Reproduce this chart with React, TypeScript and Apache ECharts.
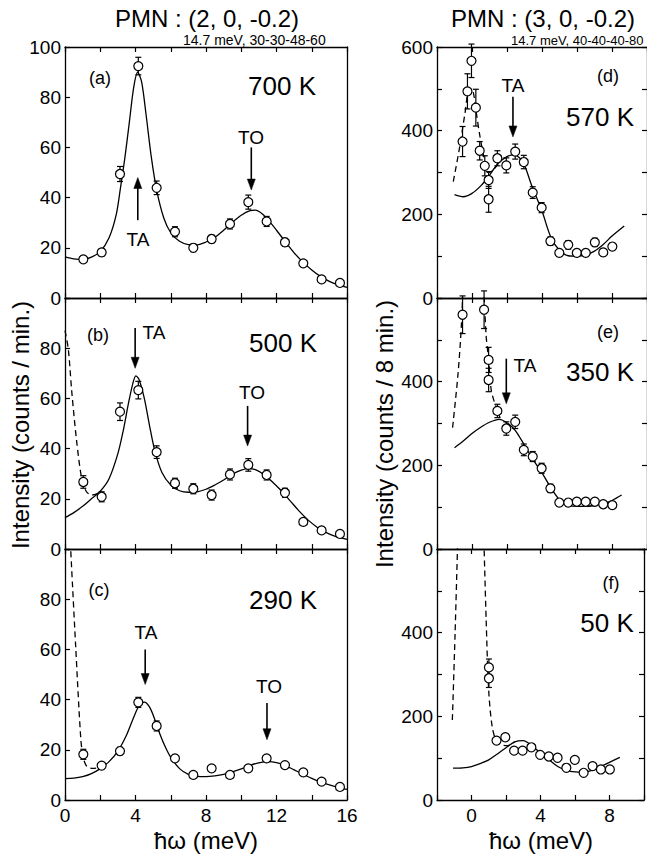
import React, { useEffect, useRef } from "react";
import * as echarts from "echarts";

// ---------- data ----------
const leftX = [1.04, 2.08, 3.12, 4.16, 5.2, 6.24, 7.28, 8.32, 9.36, 10.4, 11.44, 12.48, 13.52, 14.56, 15.6];

const yA = [15.4, 18.2, 49.4, 92.4, 43.9, 26.4, 20.0, 23.5, 29.5, 38.2, 30.5, 22.2, 13.8, 7.4, 6.0];
const errA = [1.2, 1.5, 3, 3.5, 2.7, 2, 1.5, 1.5, 2, 2.8, 2, 1.5, 1, 1, 1];
const yB = [26.7, 20.8, 54.7, 63.3, 38.6, 26.2, 24.0, 21.5, 29.7, 33.5, 29.5, 22.4, 10.8, 7.4, 6.0];
const errB = [2.5, 2, 3.5, 3.5, 2.5, 2, 2, 2, 2.2, 2.5, 2, 1.8, 1, 1, 1];
const yC = [18.2, 13.7, 19.5, 38.9, 29.5, 16.6, 10.0, 12.6, 10.0, 12.6, 16.6, 13.9, 11.0, 7.3, 5.2];
const errC = [2, 1.2, 1.5, 2, 2, 1.2, 1, 1, 1, 1, 1, 1, 1, 1, 1];

const fitA = [[0,16.4],[0.5,15.6],[1,15.3],[1.5,16.3],[2,18.5],[2.5,24],[2.9,33],[3.15,44],[3.4,56],[3.65,70],[3.9,84],[4.12,90],[4.35,86],[4.6,73],[4.9,56],[5.2,43],[5.6,32],[6.0,26],[6.5,22.6],[7,21.3],[7.5,21.2],[8,22.3],[8.5,24.2],[9,27],[9.5,30.2],[10,33],[10.5,34.8],[10.8,35],[11.2,33.5],[11.6,30.5],[12,27],[12.5,22.4],[13,18],[13.5,14.3],[14,11.2],[14.5,8.6],[15,6.6],[15.5,5.2],[16,4.2]];
const fitB = [[0,12.5],[0.5,14.5],[1,17],[1.5,20],[2,23],[2.5,28],[3,38],[3.3,47],[3.6,58],[3.85,66],[4.02,69],[4.2,67.5],[4.5,60],[4.8,49],[5.1,39],[5.5,30.5],[6,25.5],[6.5,23.2],[7,22.6],[7.5,22.8],[8,23.8],[8.5,25.5],[9,27.5],[9.5,29.8],[10,31.4],[10.4,32],[10.8,31.6],[11.3,29.6],[11.8,26.5],[12.3,23],[12.8,19],[13.3,15],[13.8,11.5],[14.3,8.7],[14.8,6.6],[15.3,5.1],[16,3.8]];
const dashB = [[0,87],[0.19,79.5],[0.38,63],[0.66,43],[0.95,28],[1.2,23],[1.5,21.5],[1.8,22],[2,23]];
const fitC = [[0,8.5],[0.5,8.7],[1,9.3],[1.5,10.5],[2,12.5],[2.5,15.3],[3,19.5],[3.5,26],[3.9,33],[4.2,37.5],[4.5,39],[4.8,37],[5.1,32],[5.4,26],[5.7,21],[6,17],[6.5,12.5],[7,10.2],[7.5,9.4],[8,9.3],[8.5,9.6],[9,10.2],[9.5,11.2],[10,12.4],[10.5,13.8],[11,14.8],[11.5,15.3],[12,14.9],[12.5,13.7],[13,12],[13.5,10.3],[14,8.6],[14.5,7.1],[15,6],[15.5,5],[16,4.2]];
const dashC = [[0.3,103],[0.6,62],[0.9,24],[1.05,16.5],[1.25,13.3],[1.6,12.6],[2.0,13.0]];

const xD = [-0.54, -0.26, -0.03, 0.22, 0.44, 0.73, 0.95, 0.95, 1.45, 1.96, 2.47, 2.96, 3.47, 3.98, 4.48, 4.99, 5.5, 5.99, 6.5, 7.02, 7.5, 8.02];
const yD = [374, 494, 567, 455, 352, 316, 282, 236, 334, 317, 350, 325, 252, 216, 136, 108, 127, 108, 108, 133, 109, 123];
const errD = [36, 42, 40, 44, 22, 24, 20, 31, 18, 18, 18, 16, 14, 12, 10, 8, 10, 8, 8, 10, 8, 8];
const xE = [-0.54, 0.69, 0.95, 0.95, 1.45, 1.96, 2.47, 2.96, 3.47, 3.98, 4.48, 4.99, 5.5, 5.99, 6.5, 7.02, 7.5, 8.02];
const yE = [560, 572, 452, 404, 330, 288, 304, 237, 221, 193, 145, 111, 111, 113, 113, 113, 107, 105];
const errE = [45, 45, 30, 28, 16, 16, 16, 14, 12, 12, 10, 8, 8, 8, 8, 8, 8, 8];
const xF = [1.01, 1.01, 1.45, 1.96, 2.47, 2.96, 3.47, 3.98, 4.48, 4.99, 5.5, 5.99, 6.5, 7.02, 7.5, 8.02];
const yF = [317, 291, 142, 150, 118, 118, 126, 108, 104, 101, 77, 96, 65, 81, 73, 73];
const errF = [20, 22, 6, 6, 5, 5, 5, 5, 5, 5, 5, 5, 5, 5, 5, 5];

const fitD = [[-1,247],[-0.5,242],[0,250],[0.5,268],[0.9,288],[1.5,322],[2,338],[2.4,342],[2.9,326],[3.4,270],[4,208],[4.5,146],[5,114],[5.5,101],[6,100],[6.5,103],[7,112],[7.5,128],[8,148],[8.7,172]];
const dashD = [[-1.07,278],[-0.7,362],[-0.4,442],[-0.15,500],[0.05,495],[0.22,450],[0.44,390],[0.63,347],[0.92,300],[1.2,305],[1.5,322]];
const fitE = [[-1,242],[-0.5,258],[0,276],[0.5,291],[1,303],[1.55,310],[2.1,299],[2.5,282],[3,248],[3.5,213],[4,182],[4.5,147],[5,118],[5.5,105],[6,102],[6.5,102],[7,104],[7.5,108],[8,116],[8.55,129]];
const dashE1 = [[-1.11,290],[-0.8,418],[-0.6,540],[-0.45,700]];
const dashE2 = [[0.6,700],[0.8,514],[0.95,452],[1.1,380],[1.35,342],[1.6,314]];
const fitF = [[-1.07,76],[-0.5,77],[0,80],[0.5,87],[1,96],[1.5,110],[2,125],[2.5,139],[3,142],[3.5,130],[4,112],[4.5,96],[5,80],[5.5,71],[6,67],[6.5,66],[7,71],[7.5,80],[8,90],[8.6,102]];
const dashF1 = [[-1.11,191],[-0.95,400],[-0.8,620]];
const dashF2 = [[0.72,620],[0.85,430],[1.0,260],[1.2,175],[1.45,140],[1.75,132],[2.1,130],[2.5,139]];

// arrows: [x, yTail, yHead]
const arrowsA = [[10.57, 60, 43], [4.13, 31, 48]];
const arrowsB = [[3.98, 88, 72], [10.36, 57, 41]];
const arrowsC = [[4.55, 60, 46], [11.46, 38.6, 24]];
const arrowsD = [[2.34, 481, 385]];
const arrowsE = [[1.96, 455, 347]];

const FONT = '"Liberation Sans", Arial, Helvetica, sans-serif';

function App() {
  const ref = useRef<HTMLDivElement>(null);
  useEffect(() => {
    if (!ref.current) return;
    const chart = echarts.init(ref.current, null, { renderer: "svg" });

    const grids = [
      { left: 65, top: 47, width: 282, height: 251 },
      { left: 65, top: 298, width: 282, height: 251 },
      { left: 65, top: 549, width: 282, height: 251 },
      { left: 437, top: 47, width: 211, height: 251 },
      { left: 437, top: 298, width: 211, height: 251 },
      { left: 437, top: 549, width: 211, height: 251 },
    ];

    const panels = [
      { xs: leftX, ys: yA, es: errA, fit: fitA, dashes: [] as number[][][], arrows: arrowsA },
      { xs: leftX, ys: yB, es: errB, fit: fitB, dashes: [dashB], arrows: arrowsB },
      { xs: leftX, ys: yC, es: errC, fit: fitC, dashes: [dashC], arrows: arrowsC },
      { xs: xD, ys: yD, es: errD, fit: fitD, dashes: [dashD], arrows: arrowsD },
      { xs: xE, ys: yE, es: errE, fit: fitE, dashes: [dashE1, dashE2], arrows: arrowsE },
      { xs: xF, ys: yF, es: errF, fit: fitF, dashes: [dashF1, dashF2], arrows: [] as number[][] },
    ];

    const axisLineStyle = { color: "#000", width: 1.3 };
    const labelStyle = { color: "#000", fontSize: 19, fontFamily: FONT };

    const xAxis: any[] = [];
    const yAxis: any[] = [];
    const series: any[] = [];

    panels.forEach((p, i) => {
      const left = i < 3;
      const bottomPanel = i === 2 || i === 5;
      const xBase = {
        type: "value",
        gridIndex: i,
        min: left ? 0 : -2,
        max: left ? 16 : 10,
        interval: 2,
        splitLine: { show: false },
        axisLine: { show: true, onZero: false, lineStyle: axisLineStyle },
        axisTick: { show: true, inside: true, length: 5, lineStyle: { color: "#000", width: 1.2 } },
      };
      xAxis.push({
        ...xBase,
        position: "bottom",
        axisLabel: {
          show: bottomPanel,
          ...labelStyle,
          margin: 6,
          formatter: (v: number) => (v % 4 === 0 ? String(v) : ""),
        },
      });
      xAxis.push({ ...xBase, position: "top", axisLabel: { show: false } });

      const yMax = left ? 100 : 600;
      const showTopLabel = i === 0 || i === 3;
      const labStep = left ? 20 : 200;
      yAxis.push({
        type: "value",
        gridIndex: i,
        min: 0,
        max: yMax,
        interval: left ? 20 : 100,
        position: "left",
        splitLine: { show: false },
        axisLine: { show: true, onZero: false, lineStyle: axisLineStyle },
        axisTick: { show: true, inside: true, length: 5, lineStyle: { color: "#000", width: 1.2 } },
        axisLabel: {
          ...labelStyle,
          margin: 4,
          formatter: (v: number) => {
            if (v % labStep !== 0) return "";
            if (v === yMax && !showTopLabel) return "";
            return String(v);
          },
        },
      });
      yAxis.push({
        type: "value",
        gridIndex: i,
        min: 0,
        max: yMax,
        interval: left ? 20 : 100,
        position: "right",
        splitLine: { show: false },
        axisLine: { show: true, onZero: false, lineStyle: axisLineStyle },
        axisTick: { show: !left, inside: true, length: 5, lineStyle: { color: "#000", width: 1.2 } },
        axisLabel: { show: false },
      });

      const xi = 2 * i;
      const yi = 2 * i;

      // error bars
      series.push({
        type: "custom",
        xAxisIndex: xi,
        yAxisIndex: yi,
        z: 2,
        silent: true,
        data: p.xs.map((x, k) => [x, p.ys[k], p.es[k]]),
        encode: { x: 0, y: 1 },
        renderItem: (params: any, api: any) => {
          const x = api.value(0);
          const y = api.value(1);
          const e = api.value(2);
          const t = api.coord([x, y + e]);
          const b = api.coord([x, y - e]);
          const w = 3;
          const st = { stroke: "#000", lineWidth: 1.2 };
          return {
            type: "group",
            children: [
              { type: "line", shape: { x1: t[0], y1: t[1], x2: b[0], y2: b[1] }, style: st },
              { type: "line", shape: { x1: t[0] - w, y1: t[1], x2: t[0] + w, y2: t[1] }, style: st },
              { type: "line", shape: { x1: b[0] - w, y1: b[1], x2: b[0] + w, y2: b[1] }, style: st },
            ],
          };
        },
      });

      // arrows
      if (p.arrows.length) {
        series.push({
          type: "custom",
          xAxisIndex: xi,
          yAxisIndex: yi,
          z: 5,
          silent: true,
          data: p.arrows,
          encode: { x: 0, y: 1 },
          renderItem: (params: any, api: any) => {
            const x = api.value(0);
            const tail = api.coord([x, api.value(1)]);
            const head = api.coord([x, api.value(2)]);
            const dir = head[1] > tail[1] ? 1 : -1;
            const hl = 11;
            const hw = 4;
            const baseY = head[1] - dir * hl;
            return {
              type: "group",
              children: [
                {
                  type: "line",
                  shape: { x1: tail[0], y1: tail[1], x2: head[0], y2: baseY + dir * 2 },
                  style: { stroke: "#000", lineWidth: 1.6 },
                },
                {
                  type: "polygon",
                  shape: {
                    points: [
                      [head[0], head[1]],
                      [head[0] - hw, baseY],
                      [head[0] + hw, baseY],
                    ],
                  },
                  style: { fill: "#000", stroke: "#000", lineWidth: 0.5 },
                },
              ],
            };
          },
        });
      }

      series.push({
        type: "line",
        xAxisIndex: xi,
        yAxisIndex: yi,
        z: 3,
        silent: true,
        data: p.fit,
        showSymbol: false,
        symbol: "none",
        smooth: 0.3,
        clip: true,
        lineStyle: { color: "#000", width: 1.3 },
      });

      p.dashes.forEach((d) => {
        series.push({
          type: "line",
          xAxisIndex: xi,
          yAxisIndex: yi,
          z: 3,
          silent: true,
          data: d,
          showSymbol: false,
          symbol: "none",
          smooth: 0.3,
          clip: true,
          lineStyle: { color: "#000", width: 1.3, type: [6, 4] },
        });
      });

      series.push({
        type: "scatter",
        xAxisIndex: xi,
        yAxisIndex: yi,
        z: 4,
        silent: true,
        data: p.xs.map((x, k) => [x, p.ys[k]]),
        symbol: "circle",
        symbolSize: 9,
        itemStyle: { color: "#fff", borderColor: "#000", borderWidth: 1.2, opacity: 1 },
      });
    });

    const txt = (text: string, x: number, y: number, size: number, extra: any = {}) => ({
      type: "text",
      x,
      y,
      silent: true,
      style: {
        text,
        fill: "#000",
        font: `${size}px ${FONT}`,
        textAlign: "center",
        textVerticalAlign: "middle",
        ...extra,
      },
    });

    const graphic: any[] = [
      txt("PMN : (2, 0, -0.2)", 207, 18, 24),
      txt("PMN : (3, 0, -0.2)", 543, 18, 24),
      txt("14.7 meV, 30-30-48-60", 183, 40, 14, { textAlign: "left" }),
      txt("14.7 meV, 40-40-40-80", 511, 40, 13, { textAlign: "left" }),
      txt("ħω (meV)", 206, 840, 24),
      txt("ħω (meV)", 541, 840, 24),
      { ...txt("Intensity (counts / min.)", 20, 425, 24), rotation: Math.PI / 2 },
      { ...txt("Intensity (counts / 8 min.)", 384, 434, 24), rotation: Math.PI / 2 },
      txt("(a)", 100, 78, 18),
      txt("700 K", 282, 86, 26),
      txt("TO", 251, 137, 19),
      txt("TA", 138, 239, 19),
      txt("(b)", 98, 335, 18),
      txt("500 K", 283, 343, 26),
      txt("TA", 154, 332, 19),
      txt("TO", 252, 392, 19),
      txt("(c)", 99, 590, 18),
      txt("290 K", 283, 600, 26),
      txt("TA", 146, 632, 19),
      txt("TO", 269, 686, 19),
      txt("(d)", 608, 76, 18),
      txt("570 K", 600, 117, 26),
      txt("TA", 513, 85, 19),
      txt("(e)", 608, 332, 18),
      txt("350 K", 600, 372, 26),
      txt("TA", 525, 365, 19),
      txt("(f)", 611, 583, 18),
      txt("50 K", 607, 623, 26),
    ];

    chart.setOption({
      animation: false,
      backgroundColor: "#fff",
      textStyle: { fontFamily: FONT },
      grid: grids.map((g) => ({ ...g, containLabel: false })),
      xAxis,
      yAxis,
      series,
      graphic,
    });

    return () => chart.dispose();
  }, []);

  return (
    <div
      ref={ref}
      style={{ position: "fixed", left: 0, top: 0, width: 647, height: 858, background: "#fff" }}
    />
  );
}

export default App;
